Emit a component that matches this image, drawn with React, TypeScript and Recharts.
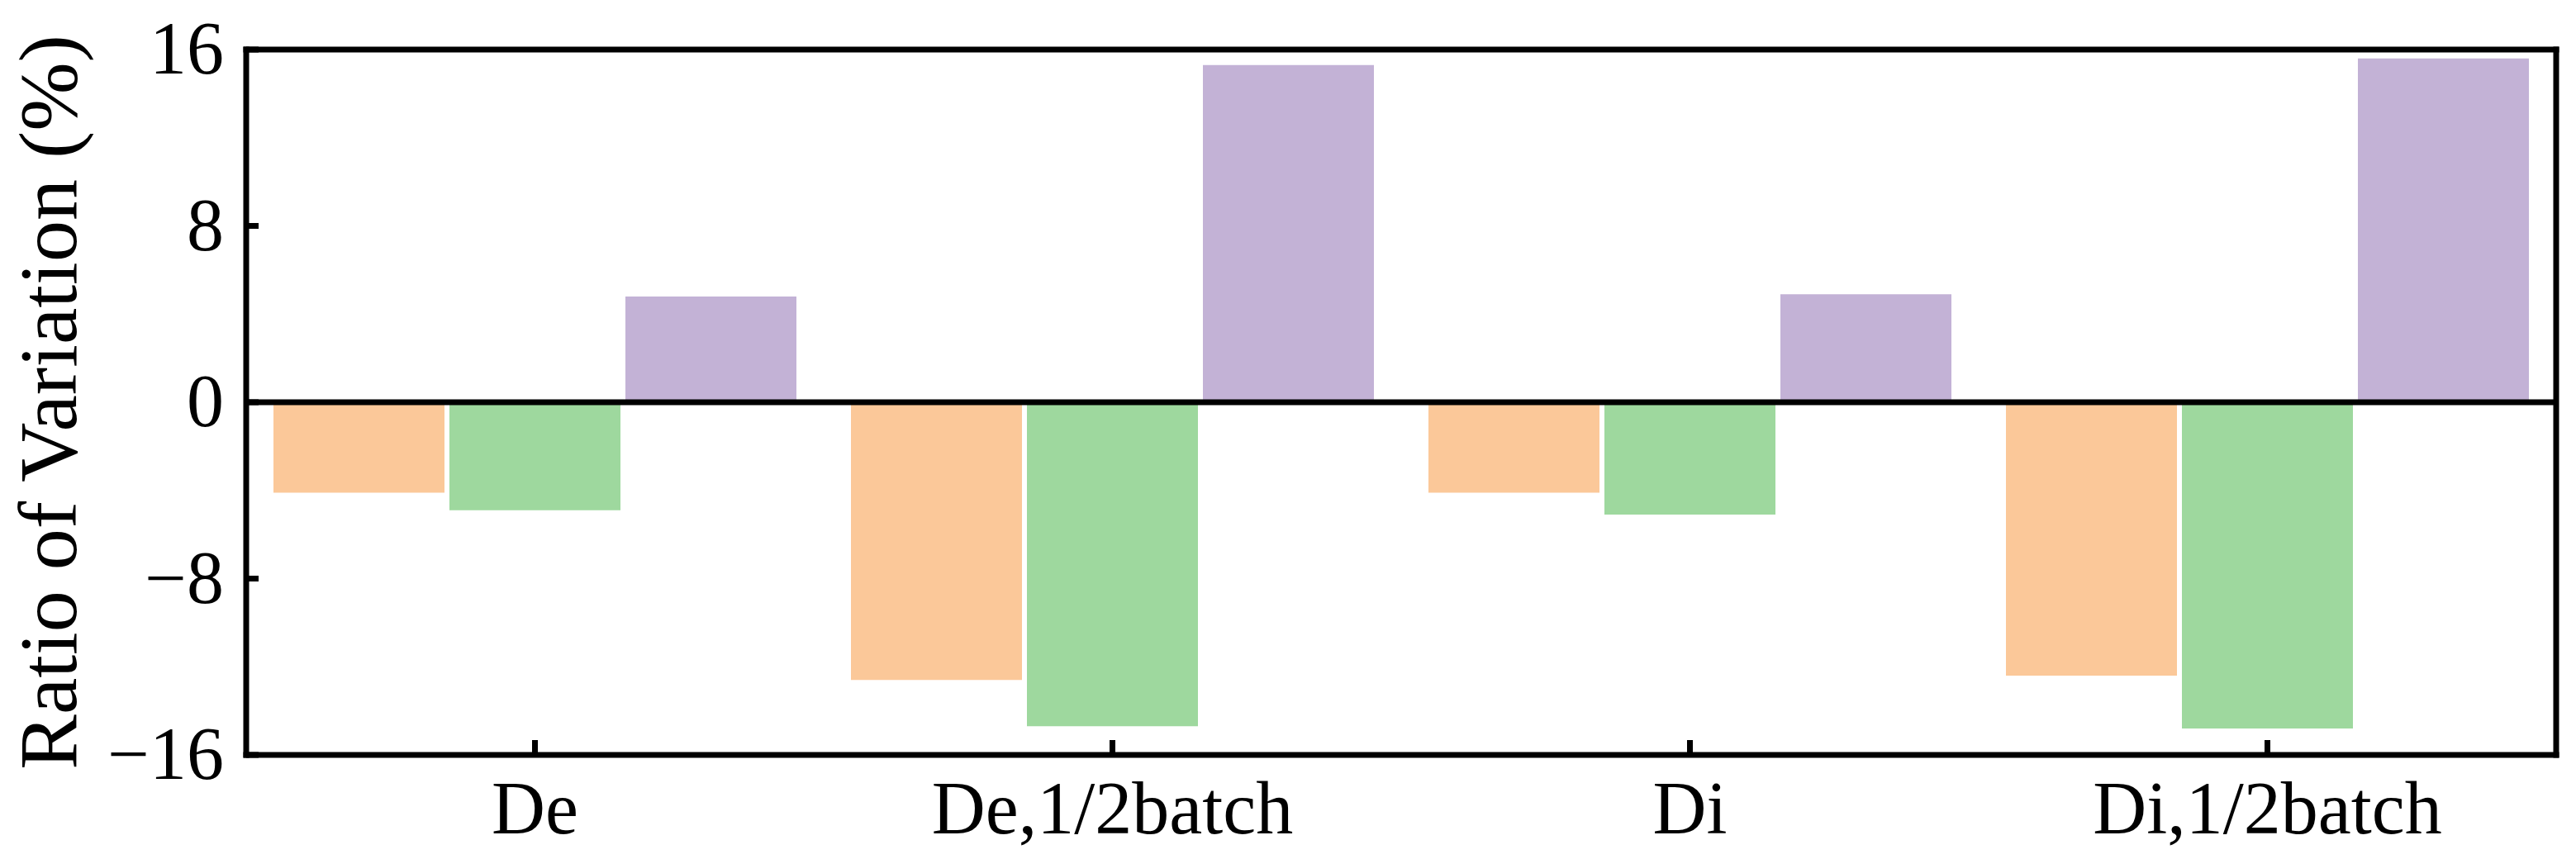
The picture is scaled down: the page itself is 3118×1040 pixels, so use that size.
import React from 'react';
import {
  BarChart,
  Bar,
  XAxis,
  YAxis,
  ReferenceLine,
} from 'recharts';

const categories = ['De', 'De,1/2batch', 'Di', 'Di,1/2batch'];
const orangeValues = [-4.1, -12.6, -4.1, -12.4];
const greenValues = [-4.9, -14.7, -5.1, -14.8];
const purpleValues = [4.8, 15.3, 4.9, 15.6];
const yTicks = [-16, -8, 0, 8, 16];
const yLabel = 'Ratio of Variation (%)';

const data = categories.map((name, i) => ({
  name,
  orange: orangeValues[i],
  green: greenValues[i],
  purple: purpleValues[i],
}));

const FONT = '"Liberation Serif", "Times New Roman", serif';
const FRAME = { stroke: '#000', strokeWidth: 7, strokeLinecap: 'square' as const };
const Y_TICK_MARGIN = 27;

const fmt = (v: number) => (v < 0 ? '\u2212' + Math.abs(v) : String(v));

// y tick: label outside, short tick mark pointing into the plot
const YTick = (props: any) => {
  const { x, y, payload } = props;
  const axisX = x + Y_TICK_MARGIN;
  return (
    <g>
      <line x1={axisX} x2={axisX + 15} y1={y} y2={y} stroke="#000" strokeWidth={7} />
      <text x={x} y={y} dy={29} textAnchor="end" fontSize={90} style={{ fontFamily: FONT }} fill="#000">
        {fmt(payload.value)}
      </text>
    </g>
  );
};

const XTick = (props: any) => {
  const { x, y, payload } = props;
  return (
    <g>
      <line x1={x} x2={x} y1={y} y2={y - 18} stroke="#000" strokeWidth={7} />
      <text x={x} y={y} dy={95} textAnchor="middle" fontSize={90} style={{ fontFamily: FONT }} fill="#000">
        {payload.value}
      </text>
    </g>
  );
};

export default function App() {
  return (
    <div
      style={{
        position: 'absolute',
        left: 0,
        top: 0,
        width: 3118,
        height: 1040,
        background: '#fff',
        fontFamily: FONT,
      }}
    >
      <BarChart
        width={3118}
        height={1040}
        data={data}
        margin={{ top: 59, right: 23, left: 297, bottom: 125 }}
        barGap={6}
        barCategoryGap={33}
      >
        <XAxis
          dataKey="name"
          height={1}
          tickSize={0}
          tickMargin={0}
          tickLine={false}
          axisLine={FRAME}
          tick={<XTick />}
          interval={0}
        />
        <XAxis
          xAxisId="top"
          dataKey="name"
          orientation="top"
          height={1}
          tick={false}
          tickLine={false}
          axisLine={FRAME}
        />
        <YAxis
          domain={[-16, 16]}
          ticks={yTicks}
          allowDataOverflow
          width={1}
          tickSize={0}
          tickMargin={Y_TICK_MARGIN}
          tickLine={false}
          axisLine={FRAME}
          tick={<YTick />}
          interval={0}
        />
        <YAxis
          yAxisId="right"
          orientation="right"
          domain={[-16, 16]}
          width={1}
          tick={false}
          tickLine={false}
          axisLine={FRAME}
        />
        <Bar dataKey="orange" fill="#FBC899" isAnimationActive={false} />
        <Bar dataKey="green" fill="#9ED89E" isAnimationActive={false} />
        <Bar dataKey="purple" fill="#C3B2D6" isAnimationActive={false} />
        <ReferenceLine y={0} stroke="#000" strokeWidth={7} />
      </BarChart>
      {/* y axis title, rotated */}
      <div
        style={{
          position: 'absolute',
          left: 59,
          top: 487,
          transform: 'translate(-50%, -50%) rotate(-90deg)',
          fontSize: 100,
          lineHeight: 1,
          whiteSpace: 'nowrap',
          color: '#000',
          fontFamily: FONT,
        }}
      >
        {yLabel}
      </div>
    </div>
  );
}
